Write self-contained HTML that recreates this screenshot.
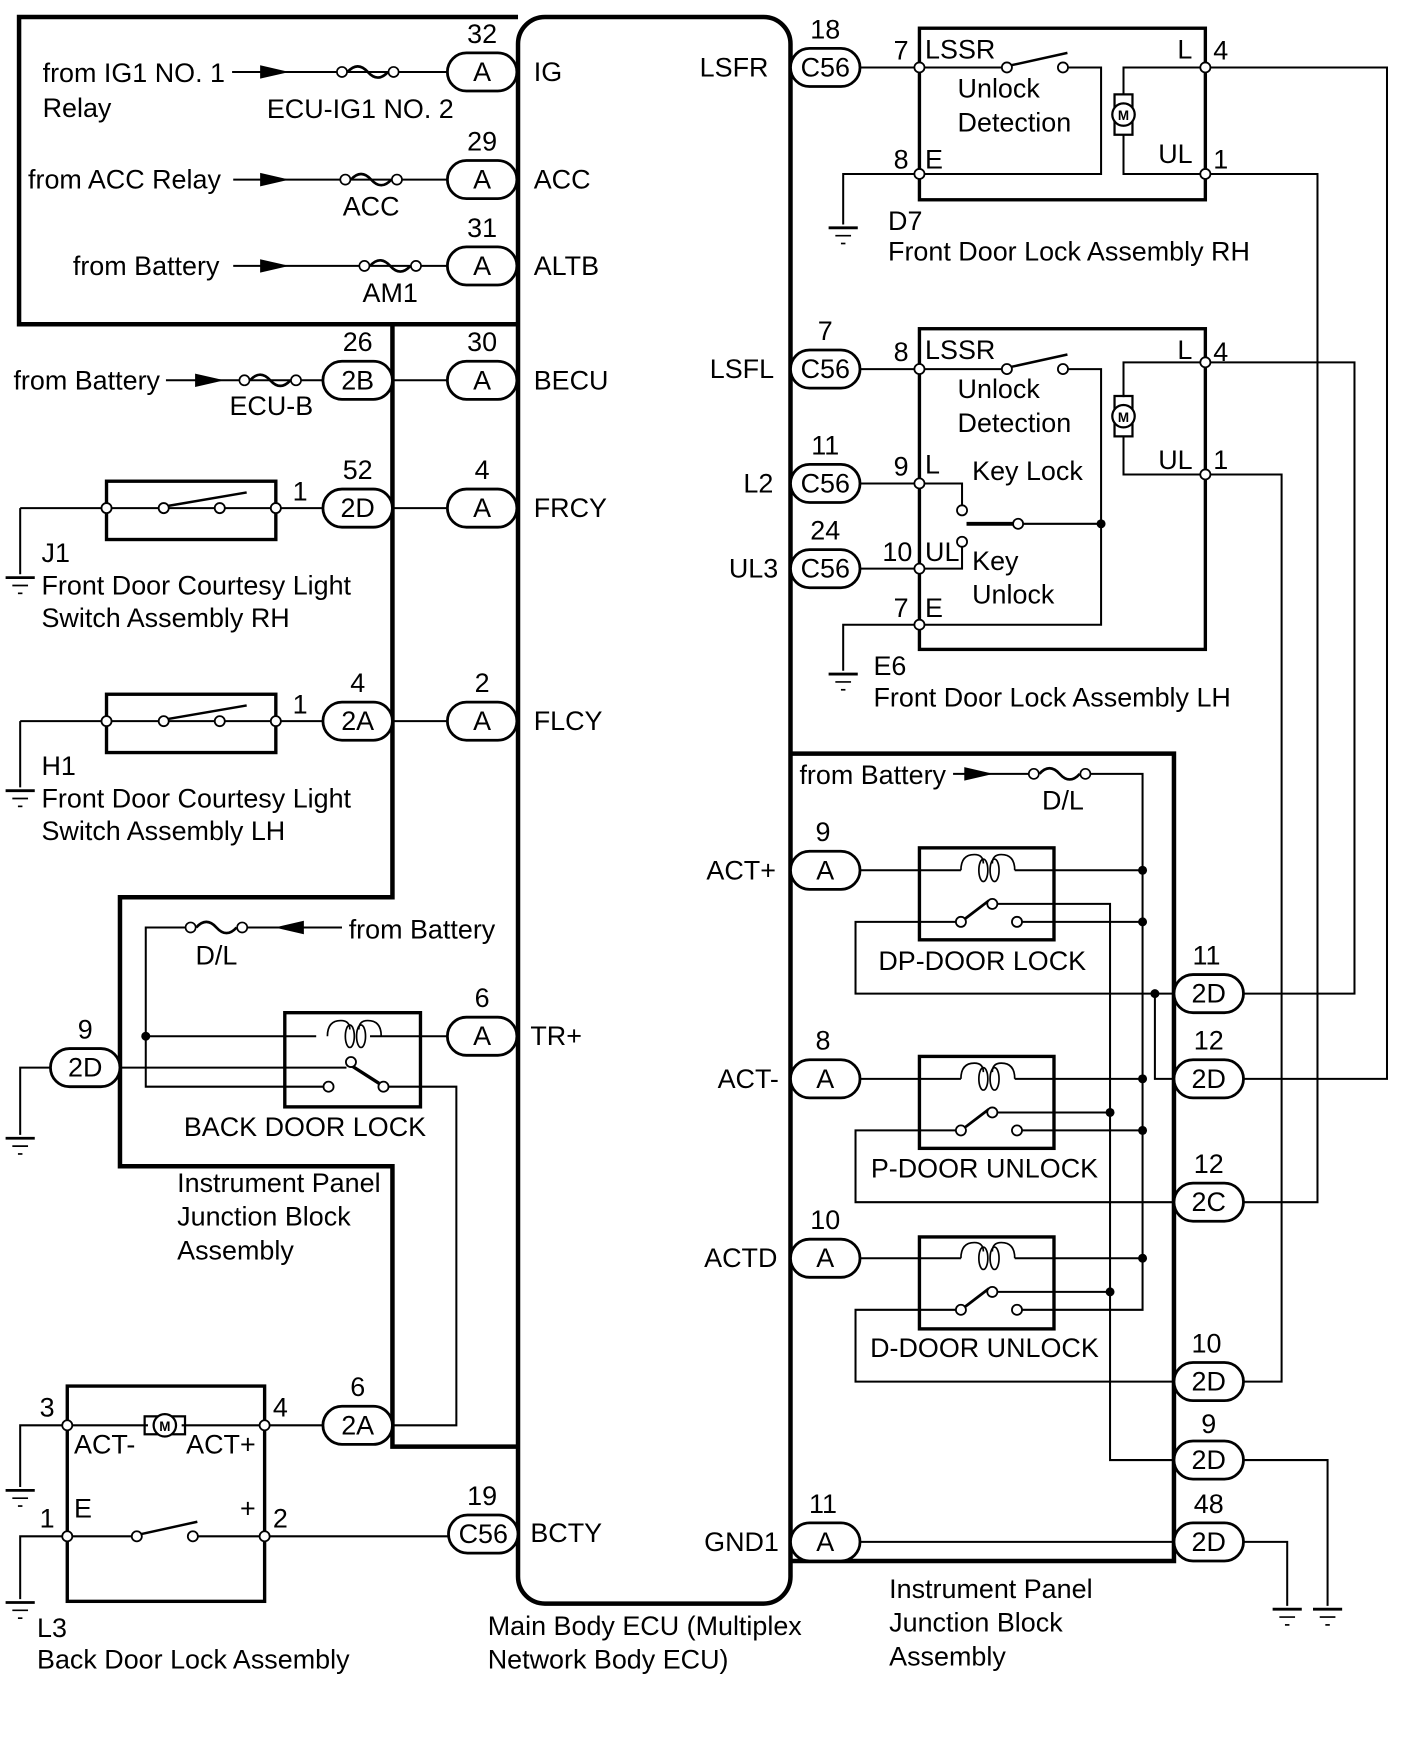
<!DOCTYPE html>
<html><head><meta charset="utf-8"><style>
html,body{margin:0;padding:0;background:#fff;}
svg{display:block;}
text{font-family:"Liberation Sans",sans-serif;font-size:24px;fill:#000;}
.c{text-anchor:middle;}
</style></head><body>
<svg width="1424" height="1763" viewBox="0 0 1270 1572" xmlns="http://www.w3.org/2000/svg">
<defs>
<g id="gnd"><line x1="-13" y1="0" x2="13" y2="0" stroke="#000" stroke-width="2.5"/><line x1="-7" y1="7" x2="7" y2="7" stroke="#000" stroke-width="1.5"/><line x1="-2" y1="14" x2="2" y2="14" stroke="#000" stroke-width="1.5"/></g>
<g id="fuse"><circle cx="0" cy="0" r="4.5" fill="#fff" stroke="#000" stroke-width="1.5"/><circle cx="46" cy="0" r="4.5" fill="#fff" stroke="#000" stroke-width="1.5"/><path d="M5 0 Q14 -10 23 0 Q32 10 41 0" fill="none" stroke="#000" stroke-width="2.4"/></g>
<g id="pill"><rect x="-31" y="-17" width="62" height="34" rx="17" fill="#fff" stroke="#000" stroke-width="2.5"/></g>
<g id="arr"><path d="M0 -6 L26 0 L0 6 Z" fill="#000"/></g>
<g id="coil"><path d="M-24 0 Q-24 -14 -12 -14 Q-4 -14 -4 -6 M4 -6 Q4 -14 12 -14 Q24 -14 24 0" fill="none" stroke="#000" stroke-width="1.5"/><ellipse cx="-4" cy="0" rx="4" ry="10" fill="none" stroke="#000" stroke-width="1.5"/><ellipse cx="6" cy="0" rx="4" ry="10" fill="none" stroke="#000" stroke-width="1.5"/></g>
<g id="motor"><rect x="-8" y="-18" width="16" height="36" fill="none" stroke="#000" stroke-width="2"/><circle cx="0" cy="0" r="10" fill="#fff" stroke="#000" stroke-width="2"/><text x="0" y="5" class="c" style="font-size:12px;font-weight:bold">M</text></g>
</defs>
<g stroke="#000" fill="none">
<path d="M462 289 L17 289 L17 15 L462 15" stroke-width="4"/>
<path d="M462 289 L350 289 L350 800 L107 800 L107 1040 L350 1040 L350 1290 L462 1290" stroke-width="4"/>
<rect x="462" y="15" width="243" height="1415" rx="24" stroke-width="4"/>
<path d="M705 672 L1047 672 L1047 1392 L705 1392" stroke-width="4"/>
<g stroke-width="1.8">
<line x1="207" y1="64" x2="400" y2="64"/>
<line x1="208" y1="160" x2="400" y2="160"/>
<line x1="208" y1="237" x2="400" y2="237"/>
<line x1="148" y1="339" x2="288" y2="339"/>
<line x1="350" y1="339" x2="400" y2="339"/>
<line x1="18" y1="453" x2="288" y2="453"/><line x1="350" y1="453" x2="400" y2="453"/>
<line x1="18" y1="453" x2="18" y2="512"/>
<line x1="18" y1="643" x2="288" y2="643"/><line x1="350" y1="643" x2="400" y2="643"/>
<line x1="18" y1="643" x2="18" y2="702"/>
<path d="M305 827 L218 827 M168 827 L130 827 L130 969 L289 969"/>
<line x1="130" y1="924" x2="282" y2="924"/><line x1="330" y1="924" x2="400" y2="924"/>
<line x1="107" y1="952" x2="309" y2="952"/>
<line x1="313" y1="950" x2="338" y2="966" stroke-width="3"/>
<path d="M346 969 L407 969 L407 1271 L350 1271"/>
<path d="M45 952 L18 952 L18 1012"/>
<path d="M60 1271 L18 1271 L18 1326 M60 1370 L18 1370 L18 1426"/>
<line x1="60" y1="1271" x2="132" y2="1271"/><line x1="162" y1="1271" x2="288" y2="1271"/>
<line x1="60" y1="1370" x2="118" y2="1370"/><line x1="176" y1="1370" x2="400" y2="1370"/>
<line x1="767" y1="60" x2="894" y2="60"/><path d="M952 60 L982 60 L982 155 L752 155 L752 200"/>
<path d="M1002 85 L1002 60 L1237 60 L1237 962 L1109 962"/>
<path d="M1002 120 L1002 155 L1175 155 L1175 1072 L1109 1072"/>
<line x1="767" y1="329" x2="894" y2="329"/><path d="M952 329 L982 329 L982 557 L752 557 L752 598"/>
<path d="M1002 354 L1002 323 L1208 323 L1208 886 L1109 886"/>
<path d="M1002 389 L1002 423 L1143 423 L1143 1232 L1109 1232"/>
<path d="M767 431 L858 431 L858 451 M767 507 L858 507 L858 487"/>
<path d="M912 467 L982 467"/>
<path d="M850 690 L920 690 M970 690 L1019 690 L1019 1168 L911 1168"/>
<line x1="767" y1="776" x2="857" y2="776"/><line x1="905" y1="776" x2="1019" y2="776"/>
<line x1="767" y1="962" x2="857" y2="962"/><line x1="905" y1="962" x2="1019" y2="962"/>
<line x1="767" y1="1122" x2="857" y2="1122"/><line x1="905" y1="1122" x2="1019" y2="1122"/>
<path d="M885 806 L990 806 L990 1302 L1047 1302"/>
<line x1="885" y1="992" x2="990" y2="992"/><line x1="885" y1="1152" x2="990" y2="1152"/>
<line x1="911" y1="822" x2="1019" y2="822"/><line x1="911" y1="1008" x2="1019" y2="1008"/>
<path d="M853 822 L763 822 L763 886 L1047 886"/>
<path d="M1030 886 L1030 962 L1047 962"/>
<path d="M853 1008 L763 1008 L763 1072 L1047 1072"/>
<path d="M853 1168 L763 1168 L763 1232 L1047 1232"/>
<line x1="767" y1="1375" x2="1047" y2="1375"/>
<path d="M1109 1302 L1184 1302 L1184 1432 M1109 1375 L1148 1375 L1148 1432"/>
</g>
<g stroke-width="3">
<rect x="95" y="429" width="151" height="52"/>
<rect x="95" y="619" width="151" height="52"/>
<rect x="254" y="903" width="121" height="84"/>
<rect x="60" y="1236" width="176" height="192"/>
<rect x="820" y="25" width="255" height="153"/>
<rect x="820" y="293" width="255" height="286"/>
<rect x="820" y="756" width="120" height="82"/>
<rect x="820" y="942" width="120" height="82"/>
<rect x="820" y="1103" width="120" height="82"/>
</g>
<g stroke-width="2.2">
<line x1="150" y1="451" x2="220" y2="439"/><line x1="150" y1="641" x2="220" y2="629"/>
<line x1="126" y1="1368" x2="176" y2="1357"/>
<line x1="902" y1="58" x2="952" y2="47"/><line x1="902" y1="327" x2="952" y2="316"/>
<line x1="862" y1="467" x2="908" y2="467" stroke-width="3.5"/>
<line x1="861" y1="819" x2="882" y2="803" stroke-width="2.5"/>
<line x1="861" y1="1005" x2="882" y2="989" stroke-width="2.5"/>
<line x1="861" y1="1165" x2="882" y2="1149" stroke-width="2.5"/>
</g>
</g>
<g fill="#fff" stroke="#000" stroke-width="1.6">
<circle cx="95" cy="453" r="4.5"/><circle cx="246" cy="453" r="4.5"/><circle cx="146" cy="453" r="4.5"/><circle cx="196" cy="453" r="4.5"/>
<circle cx="95" cy="643" r="4.5"/><circle cx="246" cy="643" r="4.5"/><circle cx="146" cy="643" r="4.5"/><circle cx="196" cy="643" r="4.5"/>
<circle cx="293" cy="969" r="4.5"/><circle cx="313" cy="947" r="4.5"/><circle cx="342" cy="969" r="4.5"/>
<circle cx="60" cy="1271" r="4.5"/><circle cx="236" cy="1271" r="4.5"/><circle cx="60" cy="1370" r="4.5"/><circle cx="236" cy="1370" r="4.5"/>
<circle cx="122" cy="1370" r="4.5"/><circle cx="172" cy="1370" r="4.5"/>
<circle cx="820" cy="60" r="4.5"/><circle cx="820" cy="155" r="4.5"/><circle cx="1075" cy="60" r="4.5"/><circle cx="1075" cy="155" r="4.5"/>
<circle cx="898" cy="60" r="4.5"/><circle cx="948" cy="60" r="4.5"/>
<circle cx="820" cy="329" r="4.5"/><circle cx="820" cy="431" r="4.5"/><circle cx="820" cy="507" r="4.5"/><circle cx="820" cy="557" r="4.5"/>
<circle cx="1075" cy="323" r="4.5"/><circle cx="1075" cy="423" r="4.5"/>
<circle cx="898" cy="329" r="4.5"/><circle cx="948" cy="329" r="4.5"/>
<circle cx="858" cy="455" r="4.5"/><circle cx="858" cy="483" r="4.5"/><circle cx="908" cy="467" r="4.5"/>
<circle cx="857" cy="822" r="4.5"/><circle cx="885" cy="806" r="4.5"/><circle cx="907" cy="822" r="4.5"/>
<circle cx="857" cy="1008" r="4.5"/><circle cx="885" cy="992" r="4.5"/><circle cx="907" cy="1008" r="4.5"/>
<circle cx="857" cy="1168" r="4.5"/><circle cx="885" cy="1152" r="4.5"/><circle cx="907" cy="1168" r="4.5"/>
</g>
<g fill="#000">
<circle cx="130" cy="924" r="4"/><circle cx="982" cy="467" r="4"/>
<circle cx="1019" cy="776" r="4"/><circle cx="1019" cy="822" r="4"/><circle cx="1019" cy="962" r="4"/><circle cx="1019" cy="1008" r="4"/><circle cx="1019" cy="1122" r="4"/>
<circle cx="990" cy="992" r="4"/><circle cx="990" cy="1152" r="4"/><circle cx="1030" cy="886" r="4"/>
</g>
<use href="#fuse" x="305" y="64"/><use href="#fuse" x="308" y="160"/><use href="#fuse" x="325" y="237"/><use href="#fuse" x="218" y="339"/>
<use href="#fuse" x="170" y="827"/><use href="#fuse" x="922" y="690"/>
<use href="#arr" x="232" y="64"/><use href="#arr" x="232" y="160"/><use href="#arr" x="232" y="237"/><use href="#arr" x="174" y="339"/><use href="#arr" x="860" y="690"/>
<path d="M245 827 L271 821 L271 833 Z" fill="#000"/>
<use href="#coil" x="316" y="924"/><use href="#coil" x="881" y="776"/><use href="#coil" x="881" y="962"/><use href="#coil" x="881" y="1122"/>
<use href="#motor" x="1002" y="102"/><use href="#motor" x="1002" y="371"/>
<g><rect x="129" y="1263" width="36" height="16" fill="none" stroke="#000" stroke-width="2"/><circle cx="147" cy="1271" r="10" fill="#fff" stroke="#000" stroke-width="2"/><text x="147" y="1276" class="c" style="font-size:12px;font-weight:bold">M</text></g>
<use href="#gnd" x="18" y="515"/><use href="#gnd" x="18" y="705"/><use href="#gnd" x="18" y="1015"/><use href="#gnd" x="18" y="1329"/><use href="#gnd" x="18" y="1429"/>
<use href="#gnd" x="752" y="203"/><use href="#gnd" x="752" y="601"/><use href="#gnd" x="1148" y="1435"/><use href="#gnd" x="1184" y="1435"/>
<use href="#pill" x="430" y="64"/><use href="#pill" x="430" y="160"/><use href="#pill" x="430" y="237"/><use href="#pill" x="430" y="339"/>
<use href="#pill" x="319" y="339"/><use href="#pill" x="430" y="453"/><use href="#pill" x="319" y="453"/><use href="#pill" x="430" y="643"/><use href="#pill" x="319" y="643"/>
<use href="#pill" x="430" y="924"/><use href="#pill" x="76" y="952"/><use href="#pill" x="319" y="1271"/><use href="#pill" x="431" y="1368"/>
<use href="#pill" x="736" y="60"/><use href="#pill" x="736" y="329"/><use href="#pill" x="736" y="431"/><use href="#pill" x="736" y="507"/>
<use href="#pill" x="736" y="776"/><use href="#pill" x="736" y="962"/><use href="#pill" x="736" y="1122"/><use href="#pill" x="736" y="1375"/>
<use href="#pill" x="1078" y="886"/><use href="#pill" x="1078" y="962"/><use href="#pill" x="1078" y="1072"/><use href="#pill" x="1078" y="1232"/><use href="#pill" x="1078" y="1302"/><use href="#pill" x="1078" y="1375"/>
<g>
<text x="430" y="72" class="c">A</text><text x="430" y="168" class="c">A</text><text x="430" y="245" class="c">A</text><text x="430" y="347" class="c">A</text>
<text x="319" y="347" class="c">2B</text><text x="430" y="461" class="c">A</text><text x="319" y="461" class="c">2D</text><text x="430" y="651" class="c">A</text><text x="319" y="651" class="c">2A</text>
<text x="430" y="932" class="c">A</text><text x="76" y="960" class="c">2D</text><text x="319" y="1279" class="c">2A</text><text x="431" y="1376" class="c">C56</text>
<text x="736" y="68" class="c">C56</text><text x="736" y="337" class="c">C56</text><text x="736" y="439" class="c">C56</text><text x="736" y="515" class="c">C56</text>
<text x="736" y="784" class="c">A</text><text x="736" y="970" class="c">A</text><text x="736" y="1130" class="c">A</text><text x="736" y="1383" class="c">A</text>
<text x="1078" y="894" class="c">2D</text><text x="1078" y="970" class="c">2D</text><text x="1078" y="1080" class="c">2C</text><text x="1078" y="1240" class="c">2D</text><text x="1078" y="1310" class="c">2D</text><text x="1078" y="1383" class="c">2D</text>
<text x="430" y="38" class="c">32</text><text x="430" y="134" class="c">29</text><text x="430" y="211" class="c">31</text><text x="430" y="313" class="c">30</text><text x="319" y="313" class="c">26</text>
<text x="430" y="427" class="c">4</text><text x="319" y="427" class="c">52</text><text x="430" y="617" class="c">2</text><text x="319" y="617" class="c">4</text>
<text x="430" y="898" class="c">6</text><text x="76" y="926" class="c">9</text><text x="319" y="1245" class="c">6</text><text x="430" y="1342" class="c">19</text>
<text x="736" y="34" class="c">18</text><text x="736" y="303" class="c">7</text><text x="736" y="405" class="c">11</text><text x="736" y="481" class="c">24</text>
<text x="734" y="750" class="c">9</text><text x="734" y="936" class="c">8</text><text x="736" y="1096" class="c">10</text><text x="734" y="1349" class="c">11</text>
<text x="1076" y="860" class="c">11</text><text x="1078" y="936" class="c">12</text><text x="1078" y="1046" class="c">12</text><text x="1076" y="1206" class="c">10</text><text x="1078" y="1278" class="c">9</text><text x="1078" y="1349" class="c">48</text>
</g>
<text x="38" y="73">from IG1 NO. 1</text><text x="38" y="104">Relay</text><text x="238" y="105">ECU-IG1 NO. 2</text>
<text x="25" y="168">from ACC Relay</text><text x="331" y="192" class="c">ACC</text>
<text x="65" y="245">from Battery</text><text x="348" y="269" class="c">AM1</text>
<text x="12" y="347">from Battery</text><text x="242" y="370" class="c">ECU-B</text>
<text x="476" y="72">IG</text><text x="476" y="168">ACC</text><text x="476" y="245">ALTB</text><text x="476" y="347">BECU</text>
<text x="476" y="461">FRCY</text><text x="476" y="651">FLCY</text><text x="473" y="932">TR+</text><text x="473" y="1375">BCTY</text>
<text x="261" y="446">1</text><text x="261" y="636">1</text>
<text x="37" y="501">J1</text><text x="37" y="530">Front Door Courtesy Light</text><text x="37" y="559">Switch Assembly RH</text>
<text x="37" y="691">H1</text><text x="37" y="720">Front Door Courtesy Light</text><text x="37" y="749">Switch Assembly LH</text>
<text x="311" y="837">from Battery</text><text x="193" y="860" class="c">D/L</text>
<text x="272" y="1013" class="c">BACK DOOR LOCK</text>
<text x="158" y="1063">Instrument Panel</text><text x="158" y="1093">Junction Block</text><text x="158" y="1123">Assembly</text>
<text x="42" y="1263" class="c">3</text><text x="250" y="1263" class="c">4</text><text x="42" y="1362" class="c">1</text><text x="250" y="1362" class="c">2</text>
<text x="66" y="1296">ACT-</text><text x="166" y="1296">ACT+</text><text x="66" y="1353">E</text><text x="214" y="1353">+</text>
<text x="33" y="1460">L3</text><text x="33" y="1488">Back Door Lock Assembly</text>
<text x="435" y="1458">Main Body ECU (Multiplex</text><text x="435" y="1488">Network Body ECU)</text>
<text x="624" y="68">LSFR</text><text x="633" y="337">LSFL</text><text x="663" y="439">L2</text><text x="650" y="515">UL3</text>
<text x="630" y="784">ACT+</text><text x="640" y="970">ACT-</text><text x="628" y="1130">ACTD</text><text x="628" y="1383">GND1</text>
<text x="797" y="53">7</text><text x="825" y="52">LSSR</text><text x="854" y="87">Unlock</text><text x="854" y="117">Detection</text>
<text x="797" y="150">8</text><text x="825" y="150">E</text><text x="1050" y="52">L</text><text x="1082" y="53">4</text><text x="1033" y="145">UL</text><text x="1082" y="150">1</text>
<text x="792" y="205">D7</text><text x="792" y="232">Front Door Lock Assembly RH</text>
<text x="797" y="322">8</text><text x="825" y="320">LSSR</text><text x="854" y="355">Unlock</text><text x="854" y="385">Detection</text>
<text x="1050" y="320">L</text><text x="1082" y="322">4</text><text x="1033" y="418">UL</text><text x="1082" y="418">1</text>
<text x="797" y="424">9</text><text x="825" y="422">L</text><text x="867" y="428">Key Lock</text>
<text x="787" y="500">10</text><text x="825" y="500">UL</text><text x="867" y="508">Key</text><text x="867" y="538">Unlock</text>
<text x="797" y="550">7</text><text x="825" y="550">E</text>
<text x="779" y="602">E6</text><text x="779" y="630">Front Door Lock Assembly LH</text>
<text x="713" y="699">from Battery</text><text x="948" y="722" class="c">D/L</text>
<text x="876" y="865" class="c">DP-DOOR LOCK</text><text x="878" y="1050" class="c">P-DOOR UNLOCK</text><text x="878" y="1210" class="c">D-DOOR UNLOCK</text>
<text x="793" y="1425">Instrument Panel</text><text x="793" y="1455">Junction Block</text><text x="793" y="1485">Assembly</text>
</svg>
</body></html>
